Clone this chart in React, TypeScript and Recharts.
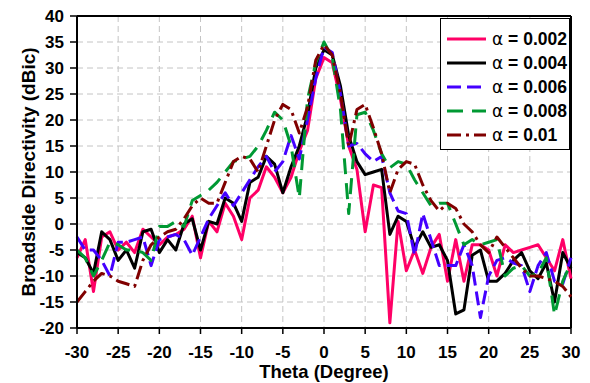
import React from "react";
import {
  LineChart,
  Line,
  XAxis,
  YAxis,
  CartesianGrid,
  Legend,
  ReferenceLine,
} from "recharts";

// Scan angle (degrees)
const thetaDeg = [
  -30, -29, -28, -27, -26, -25, -24, -23, -22, -21, -20, -19, -18, -17, -16, -15,
  -14, -13, -12, -11, -10, -9, -8, -7, -6, -5, -4, -3, -2, -1, 0,
  1, 2, 3, 4, 5, 6, 7, 8, 9, 10, 11, 12, 13, 14, 15,
  16, 17, 18, 19, 20, 21, 22, 23, 24, 25, 26, 27, 28, 29, 30,
];

// Broadside directivity (dBic) for each attenuation constant
const alpha002 = [
  -6.5, -3, -13, -2.5, -1.5, -5, -3.5, -5.5, -1, -2.5, -4, -2.5, -2, -1, 1.5, -6.5,
  0.5, -1.5, 4, 1.5, -3, 5, 6.5, 11, 9, 6, 9, 14, 18, 28, 32,
  31, 24, 15, 10.5, -1.5, 7.5, 7, -19, 0.5, -9, -5, -9.5, -4.5, -2, -11,
  -3, -11, -4, -4, -5, -10, -4, -5.5, -5, -4.5, -4, -6.5, -9, -3, -10.5,
];
const alpha004 = [
  -5.5, -6.5, -9.5, -1.5, -3, -7, -5, -8.5, -1.5, -1, -5.5, -3, -5, 0, 1, -5,
  0.5, 0, 5, 4, 0.5, 8, 9, 13, 11.5, 6, 11, 15, 21, 30, 33.5,
  32.5, 26.5, 17, 12, 9.5, 10, 10.5, -2, 1.5, 0.5, -4.5, -1.5, -4.5, -4, -7,
  -17.3, -16.5, -6, -5, -11, -11, -9.5, -7, -5.5, -9, -10.5, -7.5, -15, -5.5, -8.5,
];
const alpha006 = [
  -2.5, -5, -5, -7, -10, -3.5, -3.5, -3, -2.5, -8, -3, -2.5, -2, -3, -6, -2.5,
  1, 3.5, 6, 3.5, 6, 8.5, 11, 13, 10, 12, 17, 12.5, 20, 28, 34,
  33, 25, 15, 15.5, 13.5, 12, 13, 6, 2.5, 2, -6, 2, -3, -8, -8,
  -8, -4, -8, -18, -10, -7, -6.5, -7.5, -8, -13, -8, -5.5, -11, -11.5, -6.5,
];
const alpha008 = [
  -5, -6.5, -10, -7, -3.5, -4, -5, -5, -5.5, -7, -0.5, -0.5, 0.5, -0.5, 4.5, 5.5,
  6.5, 8, 10, 12, 12.5, 13, 15, 18, 21.5, 20, 15, 5, 24, 31, 35,
  32, 22, 2, 21, 21.5, 18, 13.5, 10.8, 12, 11.5, 8.5, 6, 3.5, 4, 4,
  0, -4, -3, -4, -3.5, -3, -10, -8.5, -8, -10, -9.5, -6.5, -17.5, -11, -7.5,
];
const alpha01 = [
  -15, -13, -11, -9.5, -10, -11, -11.5, -12, -7, -4, -2.5, -1.5, -1, 1, 3.5, 5,
  4, 4, 8, 12, 13, 12.5, 10, 15, 20, 23, 22, 17.5, 22.5, 31.5, 34.5,
  32.5, 25, 15, 22, 23, 18.5, 13.5, 6, 10.5, 12, 11.5, 7.5, 4.5, 2.5, 4,
  3, 0, -1.5, -4, -5.5, -2.5, -4.5, -6.5, -8.5, -10, -10, -10.5, -11, -12, -14,
];

const xTicks = [-30, -25, -20, -15, -10, -5, 0, 5, 10, 15, 20, 25, 30];
const yTicks = [-20, -15, -10, -5, 0, 5, 10, 15, 20, 25, 30, 35, 40];

const seriesDefs = [
  { key: "a002", label: "0.002", values: alpha002, color: "#FF0066", dash: undefined },
  { key: "a004", label: "0.004", values: alpha004, color: "#000000", dash: undefined },
  { key: "a006", label: "0.006", values: alpha006, color: "#4400FF", dash: "14 6" },
  { key: "a008", label: "0.008", values: alpha008, color: "#009933", dash: "16 9" },
  { key: "a01", label: "0.01", values: alpha01, color: "#800000", dash: "14 5 3 5" },
];

const rows = thetaDeg.map((t, i) => {
  const row: Record<string, number> = { theta: t };
  seriesDefs.forEach((s) => {
    row[s.key] = s.values[i];
  });
  return row;
});

const FONT = "'Liberation Sans', Arial, Helvetica, sans-serif";

const LegendBox = () => (
  <div
    style={{
      width: 130,
      height: 132,
      boxSizing: "border-box",
      border: "1px solid #000",
      background: "#fff",
      paddingTop: 8,
      fontFamily: FONT,
      textAlign: "left",
    }}
  >
    {seriesDefs.map((s) => (
      <div
        key={s.key}
        style={{ display: "flex", alignItems: "center", height: 24 }}
      >
        <svg width={46} height={24} style={{ display: "block" }}>
          <line
            x1={6}
            y1={12}
            x2={45}
            y2={12}
            stroke={s.color}
            strokeWidth={3}
            strokeDasharray={s.dash}
          />
        </svg>
        <span
          style={{
            marginLeft: 5,
            fontSize: 17.5,
            fontWeight: 700,
            color: "#000",
            whiteSpace: "nowrap",
            lineHeight: "24px",
          }}
        >
          <span style={{ fontWeight: 400, fontFamily: "'DejaVu Sans', sans-serif", fontSize: 17 }}>α</span> = {s.label}
        </span>
      </div>
    ))}
  </div>
);

const YTitle = (props: any) => {
  const vb = props.viewBox || {};
  const cy = vb.y + vb.height / 2;
  const x = 35;
  return (
    <text
      x={x}
      y={cy}
      transform={`rotate(-90, ${x}, ${cy})`}
      textAnchor="middle"
      fontFamily={FONT}
      fontSize={19}
      fontWeight={700}
      fill="#000"
    >
      Broadside Directivity (dBic)
    </text>
  );
};

const XTitle = (props: any) => {
  const vb = props.viewBox || {};
  const cx = vb.x + vb.width / 2;
  return (
    <text
      x={cx}
      y={378}
      textAnchor="middle"
      fontFamily={FONT}
      fontSize={18.5}
      fontWeight={700}
      fill="#000"
    >
      Theta (Degree)
    </text>
  );
};

export default function App() {
  return (
    <div style={{ position: "absolute", left: 0, top: 0, width: 590, height: 383, background: "#fff" }}>
      <LineChart
        width={590}
        height={383}
        data={rows}
        margin={{ top: 16, right: 19, bottom: 0, left: 0 }}
      >
        <CartesianGrid stroke="#c4c4c4" strokeDasharray="6 4" strokeWidth={1} />
        <XAxis
          dataKey="theta"
          type="number"
          domain={[-30, 30]}
          ticks={xTicks}
          interval={0}
          height={55}
          tickSize={6}
          tickMargin={12}
          axisLine={{ stroke: "#000", strokeWidth: 2 }}
          tickLine={{ stroke: "#000", strokeWidth: 1.5 }}
          tick={{ fontSize: 17, fontWeight: 700, fill: "#000", fontFamily: FONT }}
          label={<XTitle />}
        />
        <YAxis
          type="number"
          domain={[-20, 40]}
          ticks={yTicks}
          interval={0}
          width={77}
          tickSize={7}
          tickMargin={6}
          axisLine={{ stroke: "#000", strokeWidth: 2 }}
          tickLine={{ stroke: "#000", strokeWidth: 1.5 }}
          tick={{ fontSize: 17, fontWeight: 700, fill: "#000", fontFamily: FONT }}
          label={<YTitle />}
        />
        <ReferenceLine y={40} stroke="#000" strokeWidth={2} />
        <ReferenceLine x={30} stroke="#000" strokeWidth={2} />
        {seriesDefs.map((s) => (
          <Line
            key={s.key}
            dataKey={s.key}
            type="linear"
            stroke={s.color}
            strokeWidth={3}
            strokeDasharray={s.dash}
            strokeLinejoin="round"
            dot={false}
            activeDot={false}
            isAnimationActive={false}
          />
        ))}
        <Legend
          layout="vertical"
          align="center"
          verticalAlign="middle"
          content={<LegendBox />}
          wrapperStyle={{ position: "absolute", left: 440, top: 18, width: 130, height: 132 }}
        />
      </LineChart>
    </div>
  );
}
